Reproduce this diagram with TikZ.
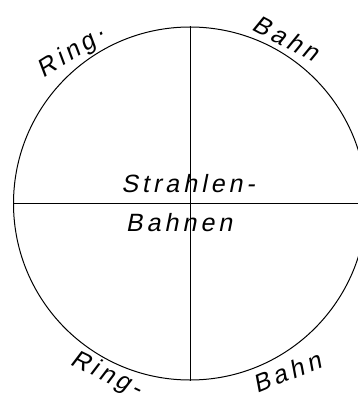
\documentclass[tikz,border=0pt]{standalone}
\usepackage{fontspec}
\newfontfamily\lettering[FakeSlant=0.2,LetterSpace=16]{Liberation Sans}
\usepackage{tikz}
\usetikzlibrary{positioning}

\begin{document}
\begin{tikzpicture}[
  x=1pt, y=-1pt,
  disc/.style={draw, circle, line width=1pt, minimum size=353pt, inner sep=0pt},
  rim/.style={line width=1pt},
  lbl/.style={font=\lettering\fontsize{25}{27}\selectfont, inner sep=0pt}
]
\clip (0,0) rectangle (358,401);
\node[disc] (disc) at (190,203.5) {};
\draw[rim] (disc.north) -- (disc.south);
\draw[rim] (disc.west) -- (disc.east);
\node[lbl] (mid1) at (188,184) {Strahlen-};
\node[lbl] (mid2) at (179,223) {Bahnen};
\node[lbl, rotate=32]  (ringtop) at (72,53)  {Ring·};
\node[lbl, rotate=-28] (bahntop) at (286,38) {Bahn};
\node[lbl, rotate=-26] (ringbot) at (106,375) {Ring-};
\node[lbl, rotate=22]  (bahnbot) at (287,372) {Bahn};
\end{tikzpicture}
\end{document}
